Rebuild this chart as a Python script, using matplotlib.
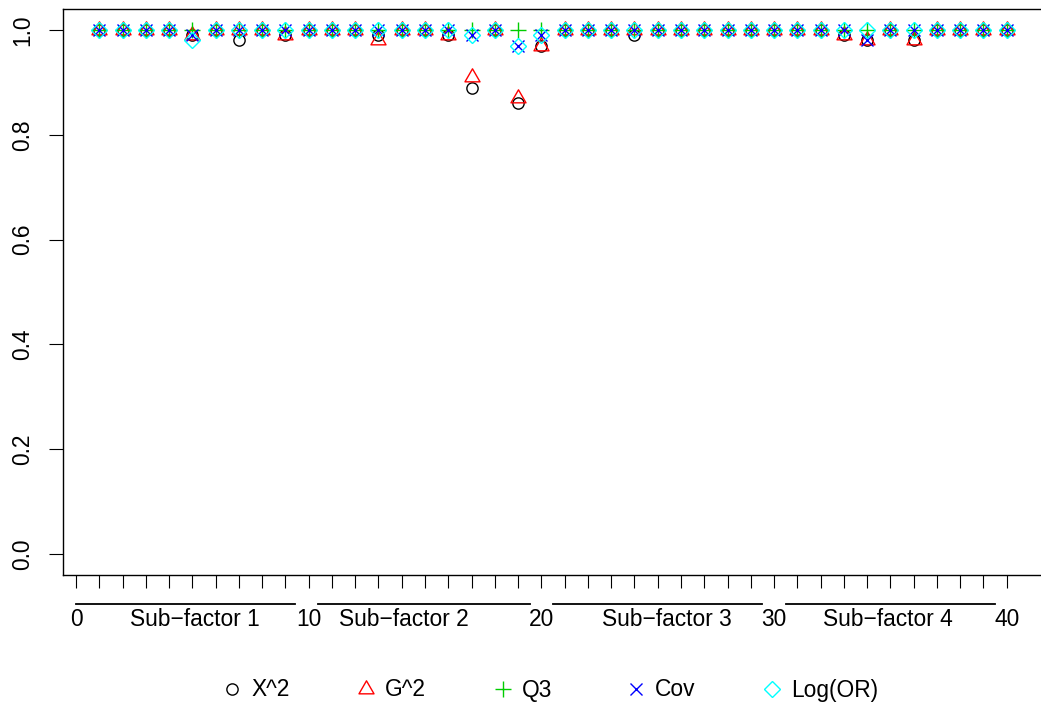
import matplotlib
matplotlib.use("Agg")
import matplotlib.pyplot as plt
from matplotlib.lines import Line2D
from matplotlib.path import Path
import numpy as np

plt.rcParams['font.family'] = ['Liberation Sans', 'DejaVu Sans']

# ---- data ----
items = list(range(1, 41))
x2 = [1, 1, 1, 1, 0.99, 1, 0.98, 1, 0.99, 1,
      1, 1, 0.99, 1, 1, 0.99, 0.89, 1, 0.86, 0.97,
      1, 1, 1, 0.99, 1, 1, 1, 1, 1, 1,
      1, 1, 0.99, 0.98, 1, 0.98, 1, 1, 1, 1]
g2 = [1, 1, 1, 1, 0.99, 1, 1, 1, 0.99, 1,
      1, 1, 0.98, 1, 1, 0.99, 0.91, 1, 0.87, 0.97,
      1, 1, 1, 1, 1, 1, 1, 1, 1, 1,
      1, 1, 0.99, 0.98, 1, 0.98, 1, 1, 1, 1]
q3 = [1] * 40
cov = [1, 1, 1, 1, 0.99, 1, 1, 1, 1, 1,
       1, 1, 1, 1, 1, 1, 0.99, 1, 0.97, 0.99,
       1, 1, 1, 1, 1, 1, 1, 1, 1, 1,
       1, 1, 1, 0.98, 1, 1, 1, 1, 1, 1]
logor = [1, 1, 1, 1, 0.98, 1, 1, 1, 1, 1,
         1, 1, 1, 1, 1, 1, 0.99, 1, 0.97, 0.99,
         1, 1, 1, 1, 1, 1, 1, 1, 1, 1,
         1, 1, 1, 1, 1, 1, 1, 1, 1, 1]
series_names = ["X^2", "G^2", "Q3", "Cov", "Log(OR)"]
xtick_labels = ["0", "10", "20", "30", "40"]
xtick_label_pos = [0, 10, 20, 30, 40]
ytick_vals = [0.0, 0.2, 0.4, 0.6, 0.8, 1.0]
group_labels = ["Sub\u2212factor 1", "Sub\u2212factor 2", "Sub\u2212factor 3", "Sub\u2212factor 4"]
group_label_pos = [5.1, 14.1, 25.4, 34.9]
group_line_start = [0.0, 10.4, 20.5, 30.5]
group_line_end = [9.4, 19.5, 29.5, 39.5]

# ---- styles ----
tri = Path([(-1, -0.577), (1, -0.577), (0, 1.155), (-1, -0.577)],
           [Path.MOVETO, Path.LINETO, Path.LINETO, Path.CLOSEPOLY])
styles = [
    dict(marker='o', color='black', ms=8.1),
    dict(marker=tri, color='#FF0000', ms=12.5),
    dict(marker='+', color='#00CD00', ms=11),
    dict(marker='x', color='#0000FF', ms=8.5),
    dict(marker='D', color='#00FFFF', ms=8.0),
]

W, H = 1041, 709
fs = 16.4
fig = plt.figure(figsize=(W / 100, H / 100), dpi=100)
left_px, right_px, top_px, bot_px = 63, 1043, 9, 575
ax = fig.add_axes([left_px / W, (H - bot_px) / H, (right_px - left_px) / W, (bot_px - top_px) / H])

handles = []
for vals, st, name in zip([x2, g2, q3, cov, logor], styles, series_names):
    ax.plot(items, vals, linestyle='none', marker=st['marker'], markersize=st['ms'],
            markerfacecolor='none', markeredgecolor=st['color'], markeredgewidth=1.0,
            clip_on=False)
    handles.append(Line2D([], [], linestyle='none', marker=st['marker'], markersize=st['ms'],
                          markerfacecolor='none', markeredgecolor=st['color'],
                          markeredgewidth=1.0, label=name))

ax.set_xlim(-0.56, 41.56)
ax.set_ylim(-0.04, 1.04)
ax.spines['right'].set_visible(False)
for s in ['left', 'top', 'bottom']:
    ax.spines[s].set_linewidth(1.0)

ax.set_xticks(range(0, 41))
ax.set_xticklabels([])
ax.tick_params(axis='x', length=9.5, width=0.8, direction='out')
ax.set_yticks(ytick_vals)
ax.set_yticklabels([f"{v:.1f}" for v in ytick_vals], rotation=90, va='center', fontsize=fs)
ax.tick_params(axis='y', length=10, width=0.8, direction='out', pad=11)

axh = bot_px - top_px
trans = ax.get_xaxis_transform()
y_lab = -(620 - bot_px) / axh
y_line = -(604 - bot_px) / axh
for p, t in zip(xtick_label_pos, xtick_labels):
    ax.text(p, y_lab, t, transform=trans, ha='center', va='center', fontsize=fs)
for p, t in zip(group_label_pos, group_labels):
    ax.text(p, y_lab, t, transform=trans, ha='center', va='center', fontsize=fs)
for a, b in zip(group_line_start, group_line_end):
    ax.plot([a, b], [y_line, y_line], color='black', lw=1.3, transform=trans, clip_on=False)

# legend: one entry per box, spaced evenly like R's horizontal legend
leg_marker_px = [232, 366, 503, 636, 772]
leg_y_px = 690
for h, mx in zip(handles, leg_marker_px):
    leg = fig.legend(handles=[h], loc='center left',
                     bbox_to_anchor=((mx - 11) / W, (H - leg_y_px) / H),
                     frameon=False, fontsize=fs, handlelength=1.0, handletextpad=0.33,
                     borderpad=0, borderaxespad=0)

fig.savefig("out.png", dpi=100)
